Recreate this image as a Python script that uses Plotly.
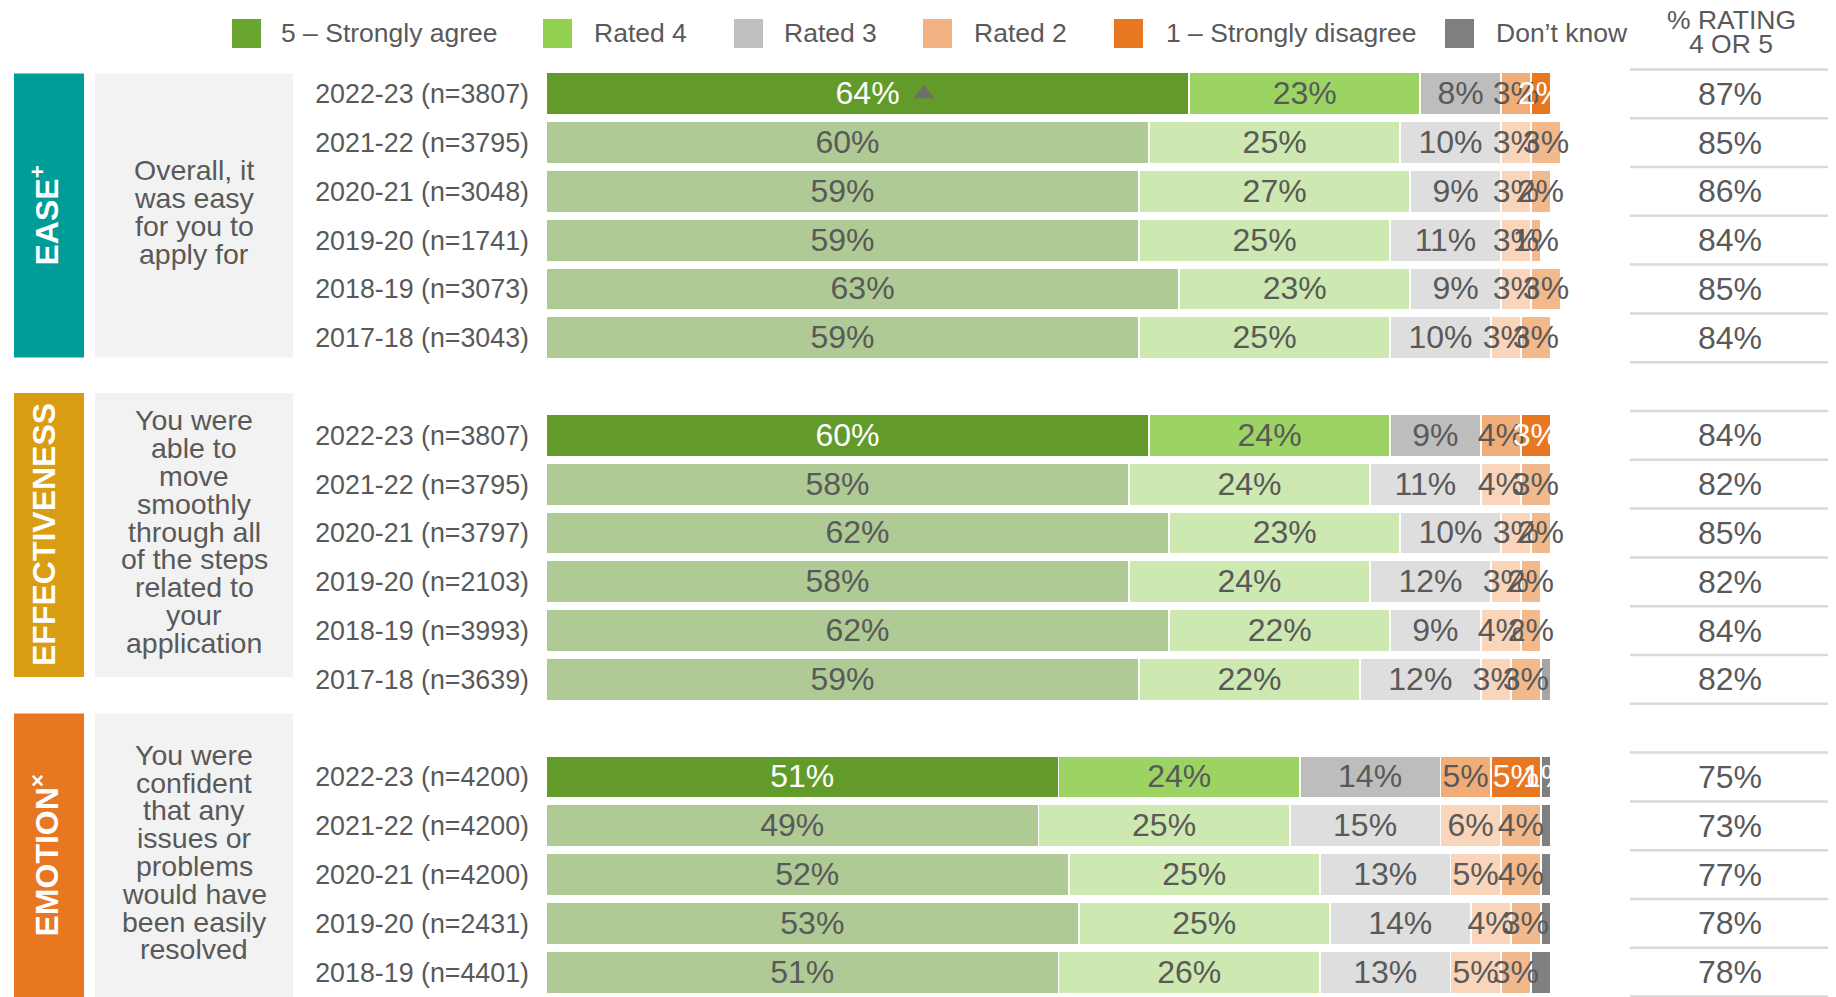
import plotly.graph_objects as go

# The page body adds an 8px margin; the figure is sized and offset to fit it.
OFF = 8
PAGE_W, PAGE_H = 1836, 997
W, H = PAGE_W - OFF, PAGE_H - OFF
FONT = "Liberation Sans, Arial, sans-serif"
GREY_TXT = "#595959"

# ---------------- data ----------------
categories = ["5 – Strongly agree", "Rated 4", "Rated 3", "Rated 2",
              "1 – Strongly disagree", "Don’t know"]

section_titles = ["EASE<sup>+</sup>", "EFFECTIVENESS", "EMOTION<sup>×</sup>"]
questions = [
    ["Overall, it", "was easy", "for you to", "apply for"],
    ["You were", "able to", "move", "smoothly", "through all", "of the steps",
     "related to", "your", "application"],
    ["You were", "confident", "that any", "issues or", "problems", "would have",
     "been easily", "resolved"],
]

ease_years = ["2022-23 (n=3807)", "2021-22 (n=3795)", "2020-21 (n=3048)",
              "2019-20 (n=1741)", "2018-19 (n=3073)", "2017-18 (n=3043)"]
ease_5 = [64, 60, 59, 59, 63, 59]
ease_4 = [23, 25, 27, 25, 23, 25]
ease_3 = [8, 10, 9, 11, 9, 10]
ease_2 = [3, 3, 3, 3, 3, 3]
ease_1 = [2, 3, 2, 1, 3, 3]
ease_dk = [0, 0, 0, 0, 0, 0]
ease_top2 = [87, 85, 86, 84, 85, 84]
ease_sig_up = [1, 0, 0, 0, 0, 0]

eff_years = ["2022-23 (n=3807)", "2021-22 (n=3795)", "2020-21 (n=3797)",
             "2019-20 (n=2103)", "2018-19 (n=3993)", "2017-18 (n=3639)"]
eff_5 = [60, 58, 62, 58, 62, 59]
eff_4 = [24, 24, 23, 24, 22, 22]
eff_3 = [9, 11, 10, 12, 9, 12]
eff_2 = [4, 4, 3, 3, 4, 3]
eff_1 = [3, 3, 2, 2, 2, 3]
eff_dk = [0, 0, 0, 0, 0, 1]
eff_top2 = [84, 82, 85, 82, 84, 82]
eff_sig_up = [0, 0, 0, 0, 0, 0]

emo_years = ["2022-23 (n=4200)", "2021-22 (n=4200)", "2020-21 (n=4200)",
             "2019-20 (n=2431)", "2018-19 (n=4401)"]
emo_5 = [51, 49, 52, 53, 51]
emo_4 = [24, 25, 25, 25, 26]
emo_3 = [14, 15, 13, 14, 13]
emo_2 = [5, 6, 5, 4, 5]
emo_1 = [5, 4, 4, 3, 3]
emo_dk = [1, 1, 1, 1, 2]
emo_top2 = [75, 73, 77, 78, 78]
emo_sig_up = [0, 0, 0, 0, 0]

# ---------------- styles ----------------
legend_colors = ["#6aa52f", "#92d050", "#bfbfbf", "#f4b183", "#e87722", "#7f7f7f"]
current_colors = ["#629b2a", "#9bd463", "#bdbdbd", "#f1ad78", "#e87722", "#7f7f7f"]
past_colors = ["#afca94", "#cde8b0", "#dedede", "#f8d5bb", "#f2b98c", "#808080"]
section_dk_past = ["#808080", "#a6a6a6", "#808080"]
current_txt = ["white", GREY_TXT, GREY_TXT, GREY_TXT, "white", "white"]
past_txt = [GREY_TXT] * 6
section_colors = ["#009c99", "#d99d13", "#e87722"]

sections = [
    (ease_years, [ease_5, ease_4, ease_3, ease_2, ease_1, ease_dk], ease_top2, ease_sig_up),
    (eff_years, [eff_5, eff_4, eff_3, eff_2, eff_1, eff_dk], eff_top2, eff_sig_up),
    (emo_years, [emo_5, emo_4, emo_3, emo_2, emo_1, emo_dk], emo_top2, emo_sig_up),
]

# row slot positions (one blank slot between sections)
slots, labels, vals = [], [], [[] for _ in categories]
is_current, top2, sig, sec_of = [], [], [], []
start = 0
sec_slots = []
for si, (years, series, t2, sg) in enumerate(sections):
    s_list = []
    for i, yl in enumerate(years):
        slots.append(start + i)
        s_list.append(start + i)
        labels.append(yl)
        is_current.append(i == 0)
        top2.append(t2[i])
        sig.append(sg[i])
        sec_of.append(si)
        for k in range(len(categories)):
            vals[k].append(series[k][i])
    sec_slots.append(s_list)
    start += len(years) + 1

# pixel geometry (page pixels) helpers
SLOT0, SLOTPX = 93.8, 48.8
Y_RANGE = [(PAGE_H - SLOT0) / SLOTPX, -(SLOT0 - OFF) / SLOTPX]
X0PX, PX100 = 546, 1005
XMAX = 110
LABEL_DY = 0.05  # small downward nudge of in-bar labels (slot units)


def px(x):
    return (x - OFF) / W


def py(y):
    return 1 - (y - OFF) / H


fig = go.Figure()

# stacked bars
for k, cat in enumerate(categories):
    cols = []
    for r, c in enumerate(is_current):
        if c:
            cols.append(current_colors[k])
        elif k == 5:
            cols.append(section_dk_past[sec_of[r]])
        else:
            cols.append(past_colors[k])
    fig.add_trace(go.Bar(
        y=slots, x=vals[k], orientation="h", name=cat,
        marker=dict(color=cols, line=dict(color="white", width=1.8)),
        width=0.87, showlegend=False, hoverinfo="skip",
    ))

# segment labels
lx, ly, lt, lc = [], [], [], []
for r in range(len(slots)):
    cum = 0
    for k in range(len(categories)):
        v = vals[k][r]
        if v > 0 and (k < 5 or is_current[r]):
            lx.append(cum + v / 2)
            ly.append(slots[r] + LABEL_DY)
            lt.append(f"{v}%")
            lc.append(current_txt[k] if is_current[r] else past_txt[k])
        cum += v
fig.add_trace(go.Scatter(
    x=lx, y=ly, text=lt, mode="text", textposition="middle center",
    textfont=dict(family=FONT, size=32, color=lc),
    cliponaxis=False, showlegend=False, hoverinfo="skip",
))

# significance triangle
tx = [vals[0][r] / 2 + 5.6 for r in range(len(slots)) if sig[r]]
ty = [slots[r] for r in range(len(slots)) if sig[r]]
fig.add_trace(go.Scatter(
    x=tx, y=ty, mode="markers",
    marker=dict(symbol="triangle-up", size=18, color="#6e6e6e"),
    cliponaxis=False, showlegend=False, hoverinfo="skip",
))

shapes, annotations = [], []

# section boxes and question text
box_tops = [73.5, 393, 713.5]
BOX_H = 284
for s in range(3):
    top = box_tops[s]
    shapes.append(dict(type="rect", xref="paper", yref="paper",
                       x0=px(14), x1=px(84), y0=py(top + BOX_H), y1=py(top),
                       fillcolor=section_colors[s], line_width=0, layer="below"))
    shapes.append(dict(type="rect", xref="paper", yref="paper",
                       x0=px(95), x1=px(293), y0=py(top + BOX_H), y1=py(top),
                       fillcolor="#f2f2f2", line_width=0, layer="below"))
    annotations.append(dict(xref="paper", yref="paper", x=px(44), y=py(top + BOX_H / 2),
                            text=f"<b>{section_titles[s]}</b>", textangle=-90,
                            showarrow=False, xanchor="center", yanchor="middle",
                            font=dict(family=FONT, size=32, color="white")))
    lines = questions[s]
    c = top + BOX_H / 2 - 3.5
    LS = 27.8
    for j, ln in enumerate(lines):
        yy = c + (j - (len(lines) - 1) / 2) * LS
        annotations.append(dict(xref="paper", yref="paper", x=px(194), y=py(yy),
                                text=ln, showarrow=False, xanchor="center",
                                yanchor="middle",
                                font=dict(family=FONT, size=28.5, color=GREY_TXT)))

# right column: % rating 4 or 5
for r in range(len(slots)):
    annotations.append(dict(xref="paper", yref="y", x=px(1729.5), y=slots[r],
                            text=f"{top2[r]}%", showarrow=False, xanchor="center",
                            yanchor="middle",
                            font=dict(family=FONT, size=32, color=GREY_TXT)))
for sl in sec_slots:
    for yv in [s - 0.5 for s in sl] + [sl[-1] + 0.5]:
        shapes.append(dict(type="line", xref="paper", yref="y",
                           x0=px(1630), x1=px(1836), y0=yv, y1=yv,
                           line=dict(color="#d9d9d9", width=2.5)))
annotations.append(dict(xref="paper", yref="paper", x=px(1731), y=py(19.5),
                        text="% RATING", showarrow=False, xanchor="center", yanchor="middle",
                        font=dict(family=FONT, size=26.5, color=GREY_TXT)))
annotations.append(dict(xref="paper", yref="paper", x=px(1731), y=py(43.5),
                        text="4 OR 5", showarrow=False, xanchor="center", yanchor="middle",
                        font=dict(family=FONT, size=26.5, color=GREY_TXT)))

# custom legend
leg_sw_x = [232, 543, 734, 923, 1114, 1445]
leg_tx_x = [279, 591.5, 782, 971.5, 1163.5, 1494]
for k, cat in enumerate(categories):
    shapes.append(dict(type="rect", xref="paper", yref="paper",
                       x0=px(leg_sw_x[k]), x1=px(leg_sw_x[k] + 29),
                       y0=py(48), y1=py(19), fillcolor=legend_colors[k], line_width=0))
    annotations.append(dict(xref="paper", yref="paper", x=px(leg_tx_x[k]), y=py(33),
                            text=cat, showarrow=False, xanchor="left", yanchor="middle",
                            font=dict(family=FONT, size=26.5, color=GREY_TXT)))

fig.update_layout(
    width=W, height=H, margin=dict(l=0, r=0, t=0, b=0),
    paper_bgcolor="white", plot_bgcolor="white",
    barmode="stack", bargap=0.13,
    shapes=shapes, annotations=annotations,
    xaxis=dict(domain=[px(X0PX), px(X0PX + PX100 * XMAX / 100)], range=[0, XMAX],
               visible=False, fixedrange=True),
    yaxis=dict(range=Y_RANGE, autorange=False, tickvals=slots, ticktext=labels,
               tickfont=dict(family=FONT, size=26.8, color=GREY_TXT),
               showgrid=False, zeroline=False, showline=False, ticks="",
               ticklabelstandoff=16, fixedrange=True),
    font=dict(family=FONT),
)

fig.write_html("out.html")
